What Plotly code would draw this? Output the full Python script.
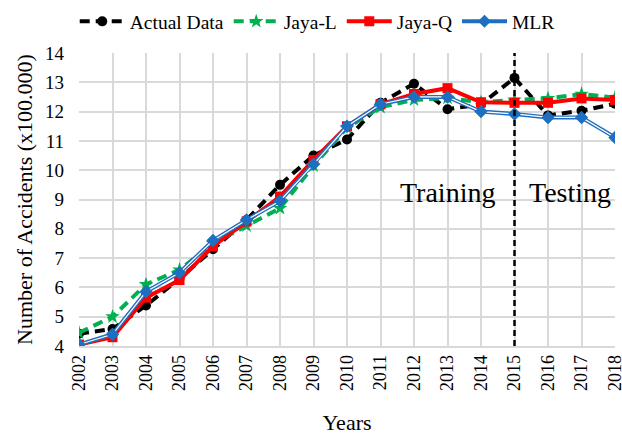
import plotly.graph_objects as go

years = list(range(2002, 2019))
actual = [4.42, 4.58, 5.38, 6.3, 7.3, 8.3, 9.5, 10.5, 11.05, 12.3, 12.95, 12.08, 12.25, 13.15, 11.87, 12.03, 12.27]
jaya_l = [4.45, 5.0, 6.1, 6.6, 7.5, 8.1, 8.7, 10.15, 11.45, 12.15, 12.4, 12.46, 12.32, 12.4, 12.45, 12.6, 12.48]
jaya_q = [4.05, 4.3, 5.65, 6.25, 7.4, 8.25, 9.1, 10.35, 11.5, 12.25, 12.6, 12.8, 12.32, 12.3, 12.3, 12.45, 12.4]
mlr = [4.05, 4.4, 5.85, 6.5, 7.6, 8.3, 8.95, 10.2, 11.5, 12.25, 12.5, 12.5, 12.0, 11.92, 11.8, 11.8, 11.12]

split_year = 2015
serif = "Liberation Serif, Times New Roman, serif"
grid = "#D9D9D9"

fig = go.Figure()

fig.add_trace(go.Scatter(
    x=years, y=actual, name="Actual Data", mode="lines+markers",
    line=dict(color="black", width=4, dash="10px,6px"),
    marker=dict(symbol="circle", size=10, color="black"),
))
fig.add_trace(go.Scatter(
    x=years, y=jaya_l, name="Jaya-L", mode="lines+markers",
    line=dict(color="#00B050", width=4, dash="10px,6px"),
    marker=dict(symbol="star", size=11, color="#00B050"),
))
fig.add_trace(go.Scatter(
    x=years, y=jaya_q, name="Jaya-Q", mode="lines+markers",
    line=dict(color="#FF0000", width=4),
    marker=dict(symbol="square", size=10, color="#FF0000"),
))
# MLR: double line (blue outline with a white core)
fig.add_trace(go.Scatter(
    x=years, y=mlr, name="MLR", mode="lines+markers",
    line=dict(color="#1F6FC0", width=4),
    marker=dict(symbol="diamond", size=10, color="#1F6FC0"),
    legendgroup="mlr",
))
fig.add_trace(go.Scatter(
    x=years, y=mlr, mode="lines", showlegend=False, hoverinfo="skip",
    line=dict(color="white", width=1.2), legendgroup="mlr",
))
fig.add_trace(go.Scatter(
    x=years, y=mlr, mode="markers", showlegend=False, hoverinfo="skip",
    marker=dict(symbol="diamond", size=10, color="#1F6FC0"), legendgroup="mlr",
))

# training / testing split
fig.add_shape(type="line", x0=split_year, x1=split_year, y0=4, y1=14,
              xref="x", yref="y", line=dict(color="black", width=2.5, dash="6px,4px"))
fig.add_annotation(x=2013.0, y=9.25, text="Training", showarrow=False,
                   font=dict(family=serif, size=28, color="black"))
fig.add_annotation(x=2016.65, y=9.25, text="Testing", showarrow=False,
                   font=dict(family=serif, size=28, color="black"))

fig.update_layout(
    width=622, height=435,
    margin=dict(l=79, r=7, t=53, b=89, autoexpand=False),
    paper_bgcolor="white", plot_bgcolor="white",
    font=dict(family=serif, size=18, color="black"),
    showlegend=True,
    legend=dict(orientation="h", x=0.51, xanchor="center", xref="container",
                y=0.995, yanchor="top", yref="container",
                font=dict(family=serif, size=19.5), itemwidth=45,
                bgcolor="rgba(0,0,0,0)"),
    xaxis=dict(
        range=[2002, 2018], tickmode="array", tickvals=years,
        ticktext=[str(y) for y in years], tickangle=-90,
        showgrid=True, gridcolor=grid, gridwidth=1.5,
        showline=True, linecolor=grid, linewidth=1.5,
        ticks="", zeroline=False, ticklabeloverflow="allow",
        title=dict(text="Years", font=dict(family=serif, size=22), standoff=25),
        tickfont=dict(family=serif, size=18),
    ),
    yaxis=dict(
        range=[4, 14], dtick=1, showgrid=True, gridcolor=grid, gridwidth=1.5,
        showline=False, ticks="", zeroline=False, ticklabelstandoff=14,
        title=dict(text="Number of Accidents (x100.000)", font=dict(family=serif, size=22), standoff=6),
        tickfont=dict(family=serif, size=19),
    ),
)

fig.write_html("out.html")
